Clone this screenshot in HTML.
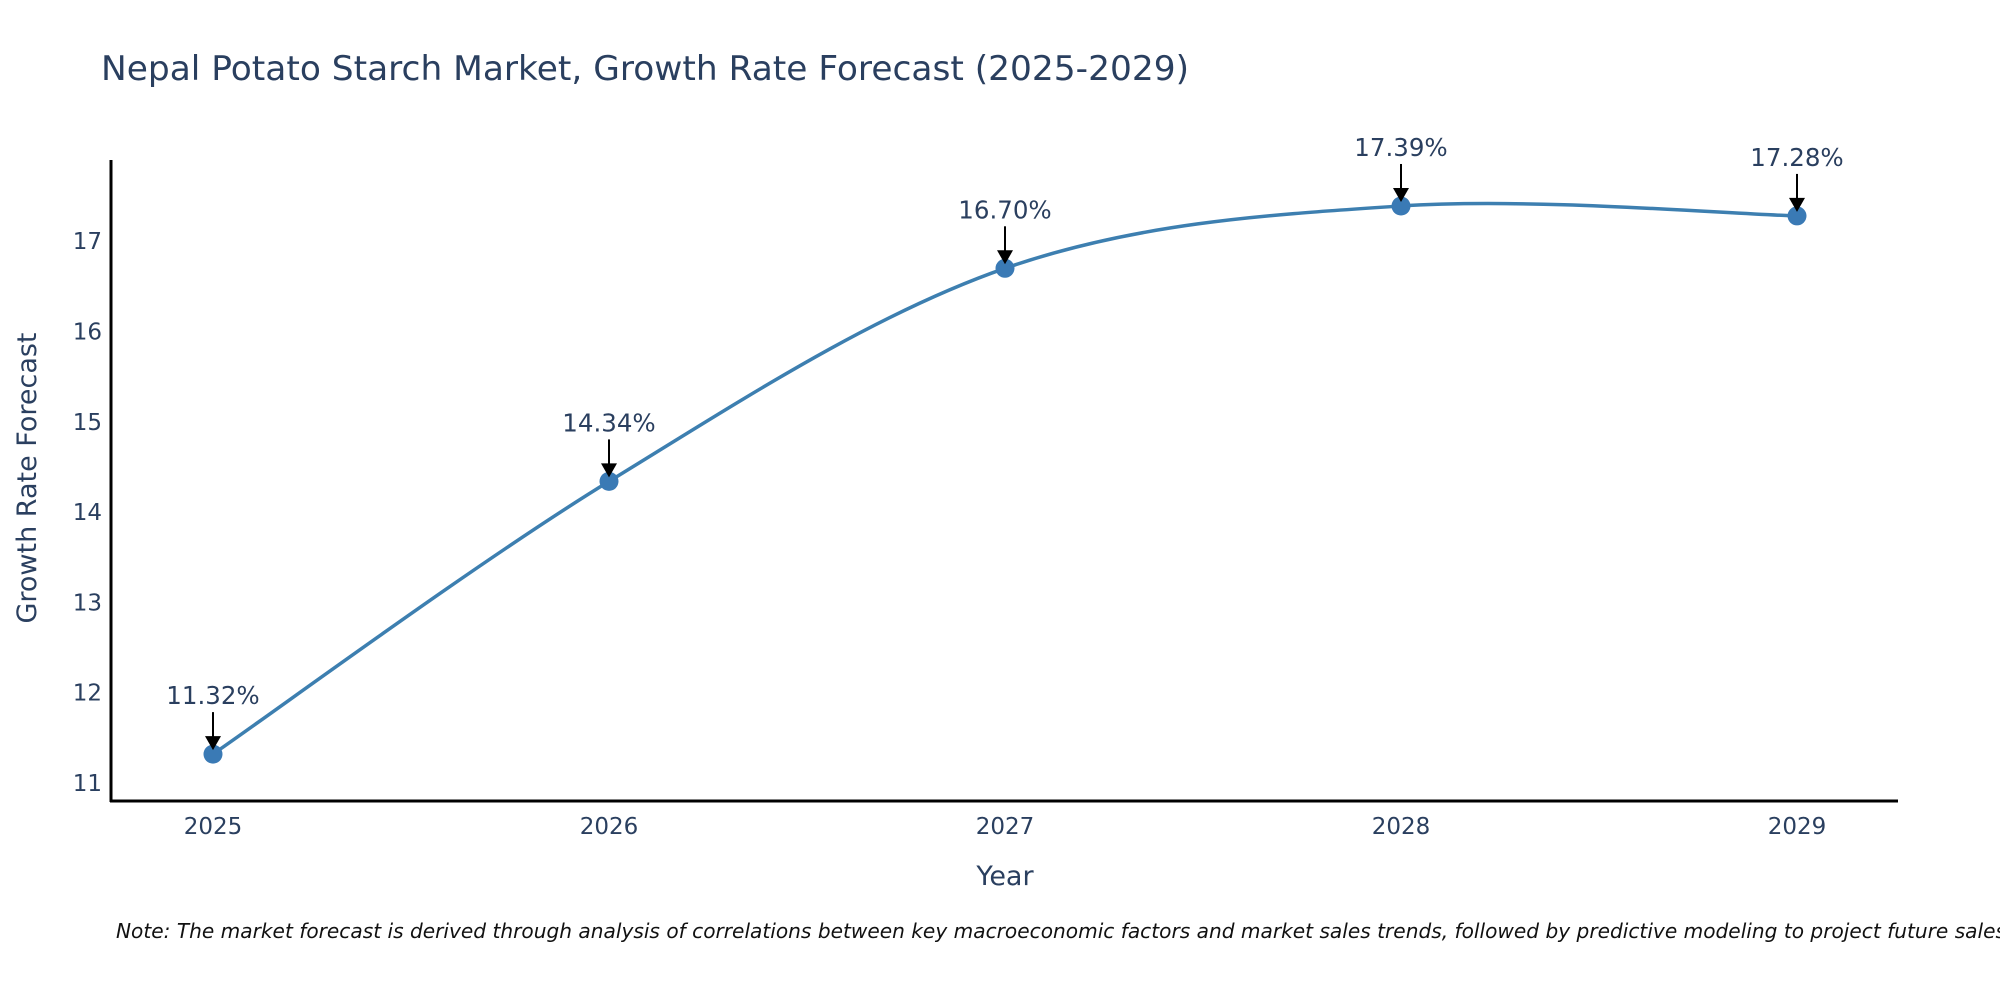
<!DOCTYPE html>
<html><head><meta charset="utf-8"><style>
html,body{margin:0;padding:0;background:#fff;overflow:hidden;}
svg{display:block;font-family:"DejaVu Sans","Liberation Sans",sans-serif;}
</style></head><body>
<svg id="chart" width="2000" height="1000">
<text x="101" y="80" font-size="34" textLength="1088" lengthAdjust="spacingAndGlyphs" fill="#2a3f5f">Nepal Potato Starch Market, Growth Rate Forecast (2025-2029)</text>
<g id="axes"></g>
<g id="series"></g>
<g id="annots"></g>
<text transform="translate(36,478) rotate(-90)" text-anchor="middle" font-size="27" fill="#2a3f5f">Growth Rate Forecast</text>
<text x="1005" y="885" text-anchor="middle" font-size="27" fill="#2a3f5f">Year</text>
<text x="116" y="938" font-size="20.5" font-style="italic" textLength="1890" lengthAdjust="spacingAndGlyphs" fill="#111">Note: The market forecast is derived through analysis of correlations between key macroeconomic factors and market sales trends, followed by predictive modeling to project future sales</text>
</svg>
<script>
const years = [2025, 2026, 2027, 2028, 2029];
const growth = [11.32, 14.34, 16.70, 17.39, 17.28];
const labels = ["11.32%", "14.34%", "16.70%", "17.39%", "17.28%"];
const yTicks = [11, 12, 13, 14, 15, 16, 17];

const NS = "http://www.w3.org/2000/svg";
const xs = v => 213 + (v - 2025) * 396;
const ys = v => 783 - (v - 11) * 90.3;
function mk(tag, attrs, parent){const e=document.createElementNS(NS,tag);for(const k in attrs)e.setAttribute(k,attrs[k]);parent.appendChild(e);return e;}
const axes=document.getElementById('axes'), series=document.getElementById('series'), ann=document.getElementById('annots');

const yl=mk('line',{x1:111,y1:160,x2:111,y2:802,stroke:'#000','stroke-width':3},axes);


const xl=mk('line',{x1:110,y1:801,x2:1898,y2:801,stroke:'#000','stroke-width':3},axes);



yTicks.forEach(t=>{
  const e=mk('text',{x:102,y:ys(t)+8,'text-anchor':'end','font-size':23,fill:'#2a3f5f'},axes);
  e.textContent=t;
  
  
});
years.forEach(y=>{
  const e=mk('text',{x:xs(y),y:834,'text-anchor':'middle','font-size':23,fill:'#2a3f5f'},axes);
  e.textContent=y;
  
  
});

const pts=years.map((y,i)=>[xs(y),ys(growth[i])]);
let d=`M${pts[0][0]},${pts[0][1]}`;
for(let i=0;i<pts.length-1;i++){
  const p0=pts[Math.max(i-1,0)],p1=pts[i],p2=pts[i+1],p3=pts[Math.min(i+2,pts.length-1)];
  const t=6;
  const c1=[p1[0]+(p2[0]-p0[0])/t,p1[1]+(p2[1]-p0[1])/t];
  const c2=[p2[0]-(p3[0]-p1[0])/t,p2[1]-(p3[1]-p1[1])/t];
  d+=` C${c1[0]},${c1[1]} ${c2[0]},${c2[1]} ${p2[0]},${p2[1]}`;
}
const ln=mk('path',{d:d,fill:'none',stroke:'#3d7fb0','stroke-width':3.5},series);


pts.forEach((p,i)=>{
  const c=mk('circle',{cx:p[0],cy:p[1],r:9.5,fill:'#3a7ab5'},series);
  
  
  const a=mk('line',{x1:p[0],y1:p[1]-42,x2:p[0],y2:p[1]-16,stroke:'#000','stroke-width':2},ann);
  
  
  const h=mk('polygon',{points:`${p[0]-8},${p[1]-18} ${p[0]+8},${p[1]-18} ${p[0]},${p[1]-4}`,fill:'#000'},ann);
  
  
  const tx=mk('text',{x:p[0],y:p[1]-50,'text-anchor':'middle','font-size':24.5,fill:'#2a3f5f'},ann);
  tx.textContent=labels[i];
  
  
});
</script>
</body></html>
